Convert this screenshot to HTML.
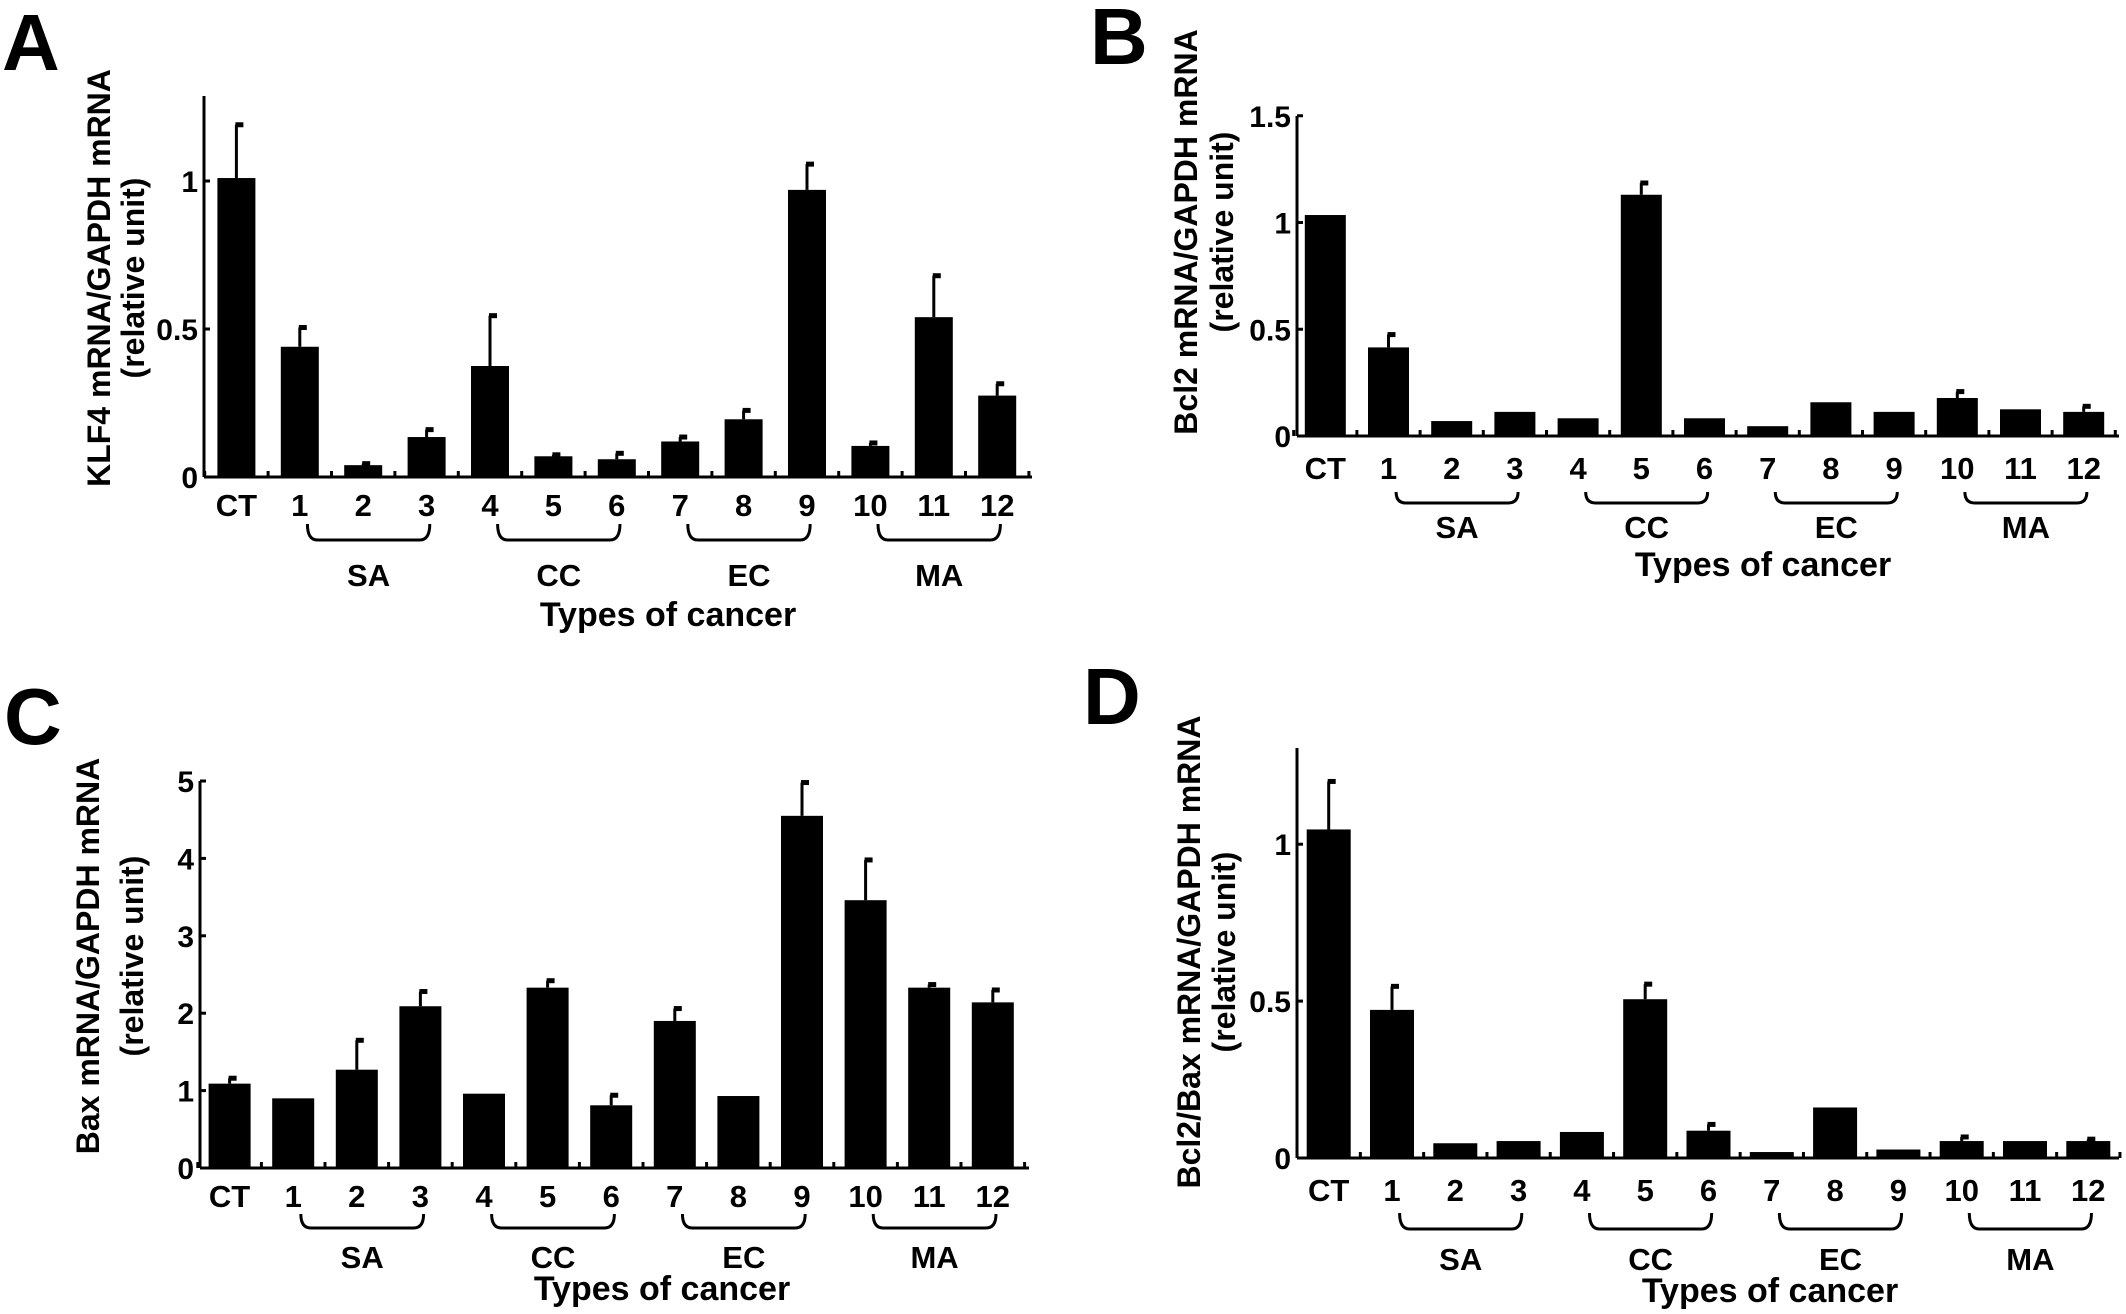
<!DOCTYPE html>
<html><head><meta charset="utf-8"><style>
html,body{margin:0;padding:0;background:#fff;}
svg{display:block;}
text{font-family:"Liberation Sans",Arial,sans-serif;font-weight:bold;fill:#000;}
</style></head><body>
<svg id="fig" width="2126" height="1314" viewBox="0 0 2126 1314" xmlns="http://www.w3.org/2000/svg"></svg>
<script>
const categories = ["CT","1","2","3","4","5","6","7","8","9","10","11","12"];
const groups = ["SA","CC","EC","MA"];
const klf4Values = [1.01,0.44,0.04,0.135,0.375,0.07,0.06,0.12,0.195,0.97,0.105,0.54,0.275];
const klf4Errors = [1.19,0.505,0.045,0.16,0.545,0.075,0.08,0.135,0.225,1.057,0.115,0.68,0.315];
const bcl2Values = [1.035,0.415,0.07,0.113,0.083,1.13,0.083,0.046,0.158,0.113,0.178,0.125,0.113];
const bcl2Errors = [1.035,0.475,0.07,0.113,0.083,1.185,0.083,0.046,0.158,0.113,0.208,0.125,0.139];
const baxValues = [1.09,0.9,1.27,2.09,0.96,2.33,0.81,1.9,0.93,4.55,3.46,2.33,2.14];
const baxErrors = [1.16,0.9,1.65,2.28,0.96,2.42,0.94,2.06,0.93,4.98,3.98,2.37,2.30];
const ratioValues = [1.047,0.472,0.047,0.054,0.083,0.506,0.087,0.019,0.161,0.027,0.054,0.054,0.054];
const ratioErrors = [1.2,0.547,0.047,0.054,0.083,0.554,0.107,0.019,0.161,0.027,0.067,0.054,0.06];
const ticksA = [0,0.5,1];
const ticksB = [0,0.5,1,1.5];
const ticksC = [0,1,2,3,4,5];
const ticksD = [0,0.5,1];
const tickLabelsA = ["0","0.5","1"];
const tickLabelsB = ["0","0.5","1","1.5"];
const tickLabelsC = ["0","1","2","3","4","5"];
const tickLabelsD = ["0","0.5","1"];

const NS="http://www.w3.org/2000/svg";
const svg=document.getElementById('fig');
function mk(tag,attrs,parent){const e=document.createElementNS(NS,tag);for(const k in attrs)e.setAttribute(k,attrs[k]);(parent||svg).appendChild(e);return e;}

function panel(cfg){
  const g=mk('g',{});
  
  
  const y=v=>cfg.y0-(v-0)*cfg.unit;
  const x=i=>cfg.x0+i*cfg.step;
  const L=mk('text',{x:cfg.lx,y:cfg.ly,'font-size':80},g);L.textContent=cfg.letter;
  
  
  const ya=mk('line',{x1:cfg.ax,y1:cfg.top,x2:cfg.ax,y2:cfg.y0,stroke:'#000','stroke-width':3},g);
  
  
  const xa=mk('line',{x1:cfg.ax,y1:cfg.y0,x2:cfg.right,y2:cfg.y0,stroke:'#000','stroke-width':3},g);
  
  
  for(let i=0;i<=categories.length;i++){
    const tx=x(i)-cfg.step/2;
    mk('line',{x1:tx,y1:cfg.y0,x2:tx,y2:cfg.y0-6,stroke:'#000','stroke-width':3},g);
  }
  cfg.ticks.forEach((t,k)=>{
    mk('line',{x1:cfg.ax,y1:y(t),x2:cfg.ax+6,y2:y(t),stroke:'#000','stroke-width':3},g);
    const tl=mk('text',{x:cfg.ax-6,y:y(t)+11,'font-size':30,'text-anchor':'end'},g);
    tl.textContent=cfg.tickLabels[k];
    
    
  });
  cfg.values.forEach((v,i)=>{
    const cx=x(i);
    const e=cfg.errors[i];
    if(e>v){
      mk('line',{x1:cx,y1:y(v),x2:cx,y2:y(e),stroke:'#000','stroke-width':3},g);
      mk('line',{x1:cx-1,y1:y(e),x2:cx+7,y2:y(e),stroke:'#000','stroke-width':5},g);
    }
    const r=mk('rect',{x:cx-cfg.bw/2,y:y(v),width:cfg.bw,height:cfg.y0-y(v),fill:'#000'},g);
    
    
    const t=mk('text',{x:cx,y:cfg.ly2,'font-size':31,'text-anchor':'middle'},g);
    t.textContent=categories[i];
    
    
  });
  groups.forEach((gn,k)=>{
    const a=x(1+3*k)+cfg.step*0.12, b=x(3+3*k)+cfg.step*0.05;
    const t0=cfg.br, t1=cfg.br+cfg.bh;
    const p=mk('path',{d:`M${a},${t0} Q${a},${t1} ${a+10},${t1} L${b-10},${t1} Q${b},${t1} ${b},${t0}`,fill:'none',stroke:'#000','stroke-width':3},g);
    
    
    const t=mk('text',{x:(a+b)/2,y:cfg.gy,'font-size':31,'text-anchor':'middle'},g);
    t.textContent=gn;
    
    
  });
  const xt=mk('text',{x:cfg.xtx,y:cfg.xty,'font-size':34,'text-anchor':'middle'},g);
  xt.textContent='Types of cancer';
  
  
  cfg.ytitle.forEach((s,k)=>{
    const t=mk('text',{x:0,y:0,'font-size':32,'text-anchor':'middle',transform:`translate(${cfg.ytx[k]},${cfg.yty}) rotate(-90)`},g);
    t.textContent=s;
    
    
  });
}

panel({letter:'A',lx:2,ly:70,ax:204,top:96,y0:477,unit:296,right:1032,x0:236.4,step:63.4,bw:38,
  values:klf4Values,errors:klf4Errors,ticks:ticksA,tickLabels:tickLabelsA,ly2:516,br:524,bh:16,gy:586,xtx:668,xty:626,
  ytitle:['KLF4 mRNA/GAPDH mRNA','(relative unit)'],ytx:[110,144],yty:278});
panel({letter:'B',lx:1090,ly:64,ax:1297,top:116,y0:436,unit:213.5,right:2119,x0:1325.3,step:63.2,bw:41,
  values:bcl2Values,errors:bcl2Errors,ticks:ticksB,tickLabels:tickLabelsB,ly2:479,br:492,bh:11,gy:538,xtx:1763,xty:576,
  ytitle:['Bcl2 mRNA/GAPDH mRNA','(relative unit)'],ytx:[1197,1233],yty:232});
panel({letter:'C',lx:4,ly:744,ax:200,top:781,y0:1168,unit:77.4,right:1029,x0:229.6,step:63.6,bw:42,
  values:baxValues,errors:baxErrors,ticks:ticksC,tickLabels:tickLabelsC,ly2:1207,br:1214,bh:14,gy:1268,xtx:662,xty:1300,
  ytitle:['Bax mRNA/GAPDH mRNA','(relative unit)'],ytx:[99,143],yty:956});
panel({letter:'D',lx:1083,ly:724,ax:1297,top:748,y0:1158,unit:313.8,right:2119,x0:1328.7,step:63.3,bw:44,
  values:ratioValues,errors:ratioErrors,ticks:ticksD,tickLabels:tickLabelsD,ly2:1201,br:1213,bh:16,gy:1270,xtx:1770,xty:1302,
  ytitle:['Bcl2/Bax mRNA/GAPDH mRNA','(relative unit)'],ytx:[1200,1235],yty:952});
</script>
</body></html>
